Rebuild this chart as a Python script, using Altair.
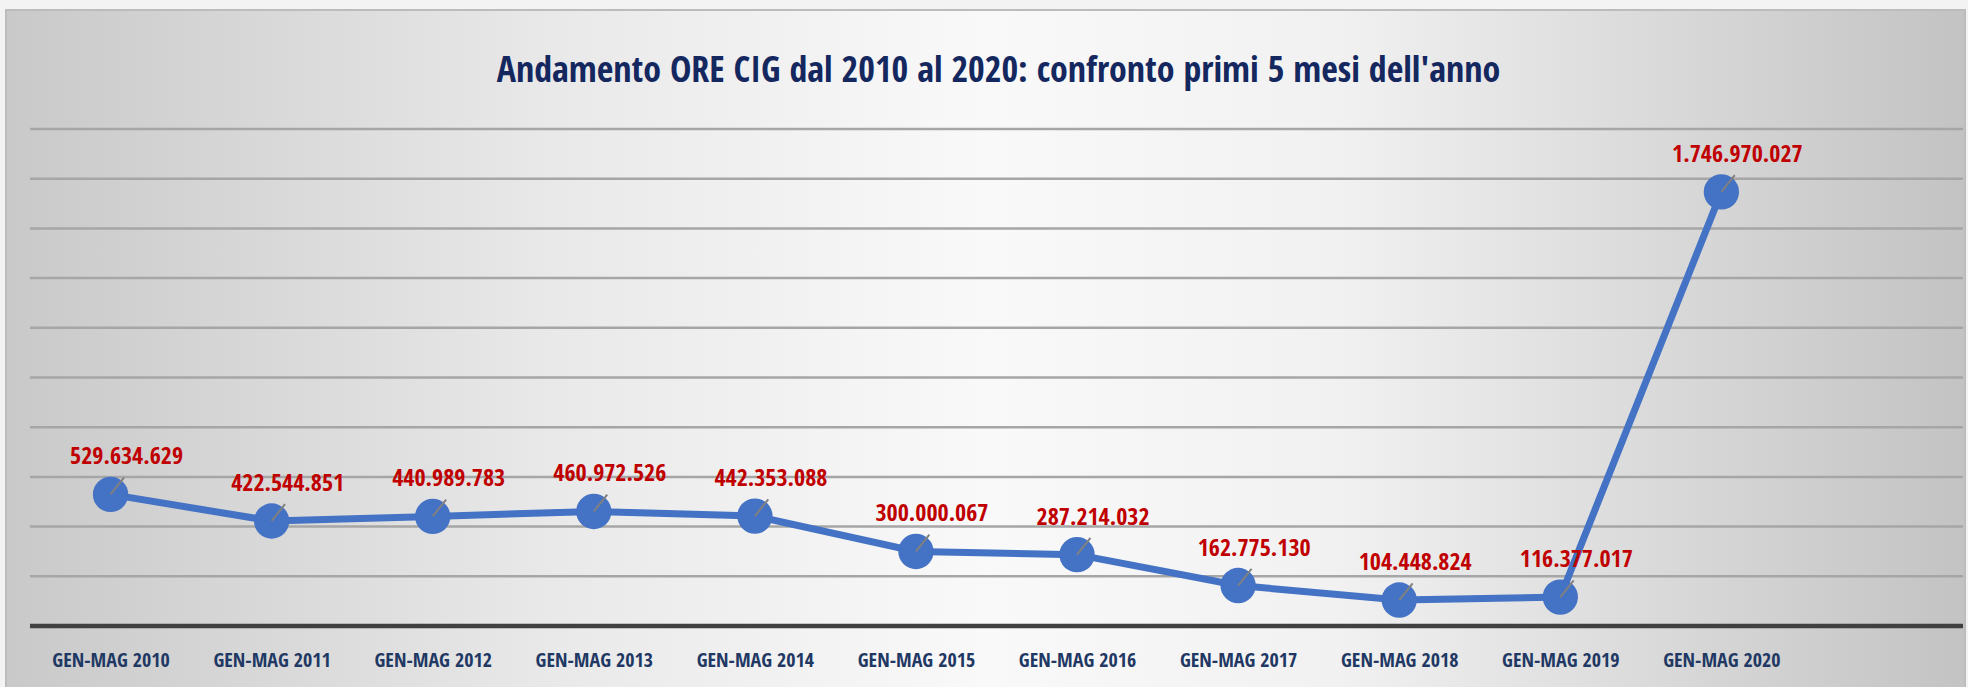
import json
import altair as alt
import pandas as pd

# ---- data ----
categories = ["GEN-MAG 2010", "GEN-MAG 2011", "GEN-MAG 2012", "GEN-MAG 2013",
              "GEN-MAG 2014", "GEN-MAG 2015", "GEN-MAG 2016", "GEN-MAG 2017",
              "GEN-MAG 2018", "GEN-MAG 2019", "GEN-MAG 2020"]
ore_cig = [529634629, 422544851, 440989783, 460972526, 442353088, 300000067,
           287214032, 162775130, 104448824, 116377017, 1746970027]
grid_values = [200000000, 400000000, 600000000, 800000000, 1000000000,
               1200000000, 1400000000, 1600000000, 1800000000, 2000000000]
title_text = "Andamento ORE CIG dal 2010 al 2020: confronto primi 5 mesi dell'anno"

FONT = "Open Sans Condensed"
W, H = 1933, 497

df = pd.DataFrame({
    "idx": list(range(len(categories))),
    "cat": categories,
    "ore": ore_cig,
    "label": [format(v, ",").replace(",", ".") for v in ore_cig],
})
grid_df = pd.DataFrame({"g": grid_values})

xscale = alt.Scale(domain=[-0.5, len(categories) + 0.5], nice=False, zero=False)
yscale = alt.Scale(domain=[0, 2000000000], nice=False)

label_expr = json.dumps(categories) + "[datum.value]"

x_enc = alt.X("idx:Q", scale=xscale,
              axis=alt.Axis(values=list(range(len(categories))), labelExpr=label_expr,
                            domain=False, ticks=False, tickSize=0, grid=False, title=None,
                            labelFont=FONT, labelFontSize=20, labelFontWeight="bold",
                            labelColor="#1f3864", labelBaseline="middle", labelPadding=34,
                            labelAlign="center", zindex=1))
y_enc = alt.Y("ore:Q", scale=yscale, axis=None)

one = alt.Data(values=[{"a": 1}])

background = alt.Chart(one).mark_rect(
    fill=alt.LinearGradient(
        gradient="linear", x1=0, x2=1, y1=0, y2=0,
        stops=[alt.GradientStop(color="#c9c9c9", offset=0),
               alt.GradientStop(color="#e9e9e9", offset=0.28),
               alt.GradientStop(color="#f9f9f9", offset=0.5),
               alt.GradientStop(color="#f1f1f1", offset=0.68),
               alt.GradientStop(color="#c3c3c3", offset=1)]),
    stroke="#bcbcbc", strokeWidth=2,
).encode(x=alt.value(-24), x2=alt.value(1935), y=alt.value(-119), y2=alt.value(H + 70))

grid = alt.Chart(grid_df).mark_rule(color="#a6a6a6", strokeWidth=2.5).encode(
    y=alt.Y("g:Q", scale=yscale, axis=None),
    x=alt.value(0), x2=alt.value(W))

baseline = alt.Chart(one).mark_rule(color="#404040", strokeWidth=4.5).encode(
    y=alt.value(H), x=alt.value(0), x2=alt.value(W))

base = alt.Chart(df)
line = base.mark_line(color="#4472c4", strokeWidth=7).encode(x=x_enc, y=y_enc)
points = base.mark_point(filled=True, color="#4472c4", opacity=1, size=1250).encode(
    x=alt.X("idx:Q", scale=xscale), y=alt.Y("ore:Q", scale=yscale))
leaders = base.mark_point(shape="M0,0L0.6,-0.75", filled=False, stroke="#808080",
                          strokeWidth=2, size=2000, opacity=1).encode(
    x=alt.X("idx:Q", scale=xscale), y=alt.Y("ore:Q", scale=yscale))
labels = base.mark_text(font=FONT, fontSize=24, fontWeight="bold", color="#c00000",
                        align="center", baseline="alphabetic", dx=16, dy=-30).encode(
    x=alt.X("idx:Q", scale=xscale), y=alt.Y("ore:Q", scale=yscale), text="label:N")

title = alt.Chart(one).mark_text(font=FONT, fontSize=36, fontWeight="bold",
                                 color="#14285f", align="center",
                                 baseline="alphabetic").encode(
    x=alt.value(W / 2 + 2), y=alt.value(-47), text=alt.value(title_text))

chart = alt.layer(background, grid, baseline, line, points, leaders, labels, title).properties(
    width=W, height=H,
    autosize=alt.AutoSizeParams(type="none"),
    padding={"left": 30, "top": 129, "right": 5, "bottom": 61},
    background="#f3f3f3",
).configure_view(stroke=None)

chart.save("out.html", embed_options={"renderer": "svg", "actions": False})
